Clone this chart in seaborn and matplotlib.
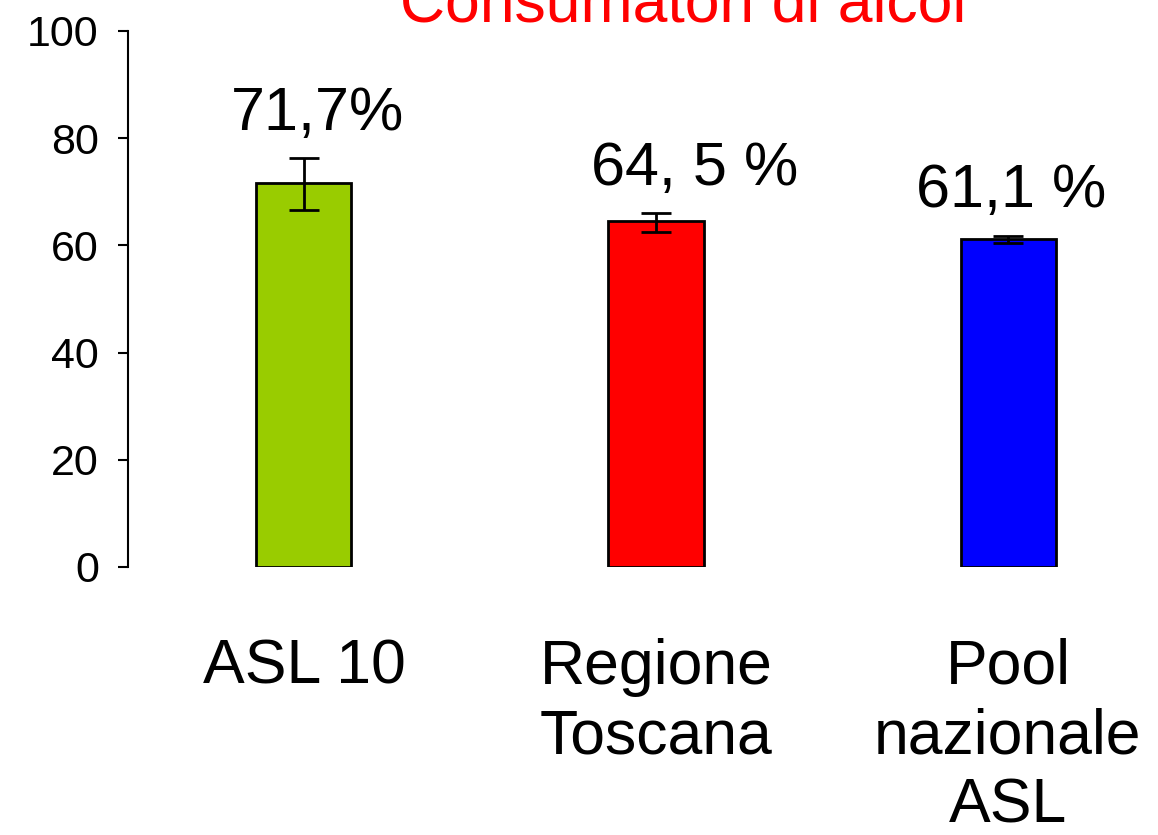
import pandas as pd
import seaborn as sns
import matplotlib.pyplot as plt

categories = ['ASL 10', 'Regione\nToscana', 'Pool\nnazionale\nASL']
values = [71.7, 64.5, 61.1]
err_low = [66.6, 62.5, 60.4]
err_high = [76.3, 66.0, 61.8]
value_labels = ['71,7%', '64, 5 %', '61,1 %']
colors = ['#99CC00', '#FF0000', '#0000FF']
y_ticks = [0, 20, 40, 60, 80, 100]

sns.set_style('white')
plt.rcParams['font.family'] = ['Liberation Sans', 'DejaVu Sans']
plt.rcParams['text.color'] = 'black'
plt.rcParams['xtick.color'] = 'black'
plt.rcParams['ytick.color'] = 'black'

data = pd.DataFrame({'Area': categories, 'Valore': values})

fig = plt.figure(figsize=(11.58, 8.35), dpi=100)
ax = fig.add_axes([0.1105, 0.321, 0.912, 0.642])

sns.barplot(data=data, x='Area', y='Valore', hue='Area', palette=colors,
            saturation=1, width=0.27, edgecolor='black', linewidth=2,
            errorbar=None, legend=False, ax=ax)

lower = [v - lo for v, lo in zip(values, err_low)]
upper = [hi - v for v, hi in zip(values, err_high)]
ax.errorbar(range(len(values)), values, yerr=[lower, upper], fmt='none',
            ecolor='black', elinewidth=2, capsize=11, capthick=2)

offsets = [10, 28, 2]
for i, (hi, lab) in enumerate(zip(err_high, value_labels)):
    ax.annotate(lab, (i, hi + 5.3), xytext=(offsets[i], 0), textcoords='offset points',
                ha='center', va='baseline', fontsize=44)

ax.set_xlim(-0.5, 2.5)
ax.set_ylim(0, 100)
ax.set_yticks(y_ticks)
ax.tick_params(axis='y', labelsize=31, length=7, width=1.5, direction='out', left=True, pad=14)
ax.tick_params(axis='x', labelsize=45, length=0, pad=51)
for lab in ax.get_xticklabels():
    lab.set_linespacing(1.23)
ax.set_xlabel('')
ax.set_ylabel('')
for s in ['top', 'right', 'bottom']:
    ax.spines[s].set_visible(False)
ax.spines['left'].set_linewidth(1.5)
ax.spines['left'].set_color('black')

fig.text(0.59, 0.974, 'Consumatori di alcol', color='red', fontsize=45,
         ha='center', va='baseline')

fig.savefig('out.png', dpi=100)
